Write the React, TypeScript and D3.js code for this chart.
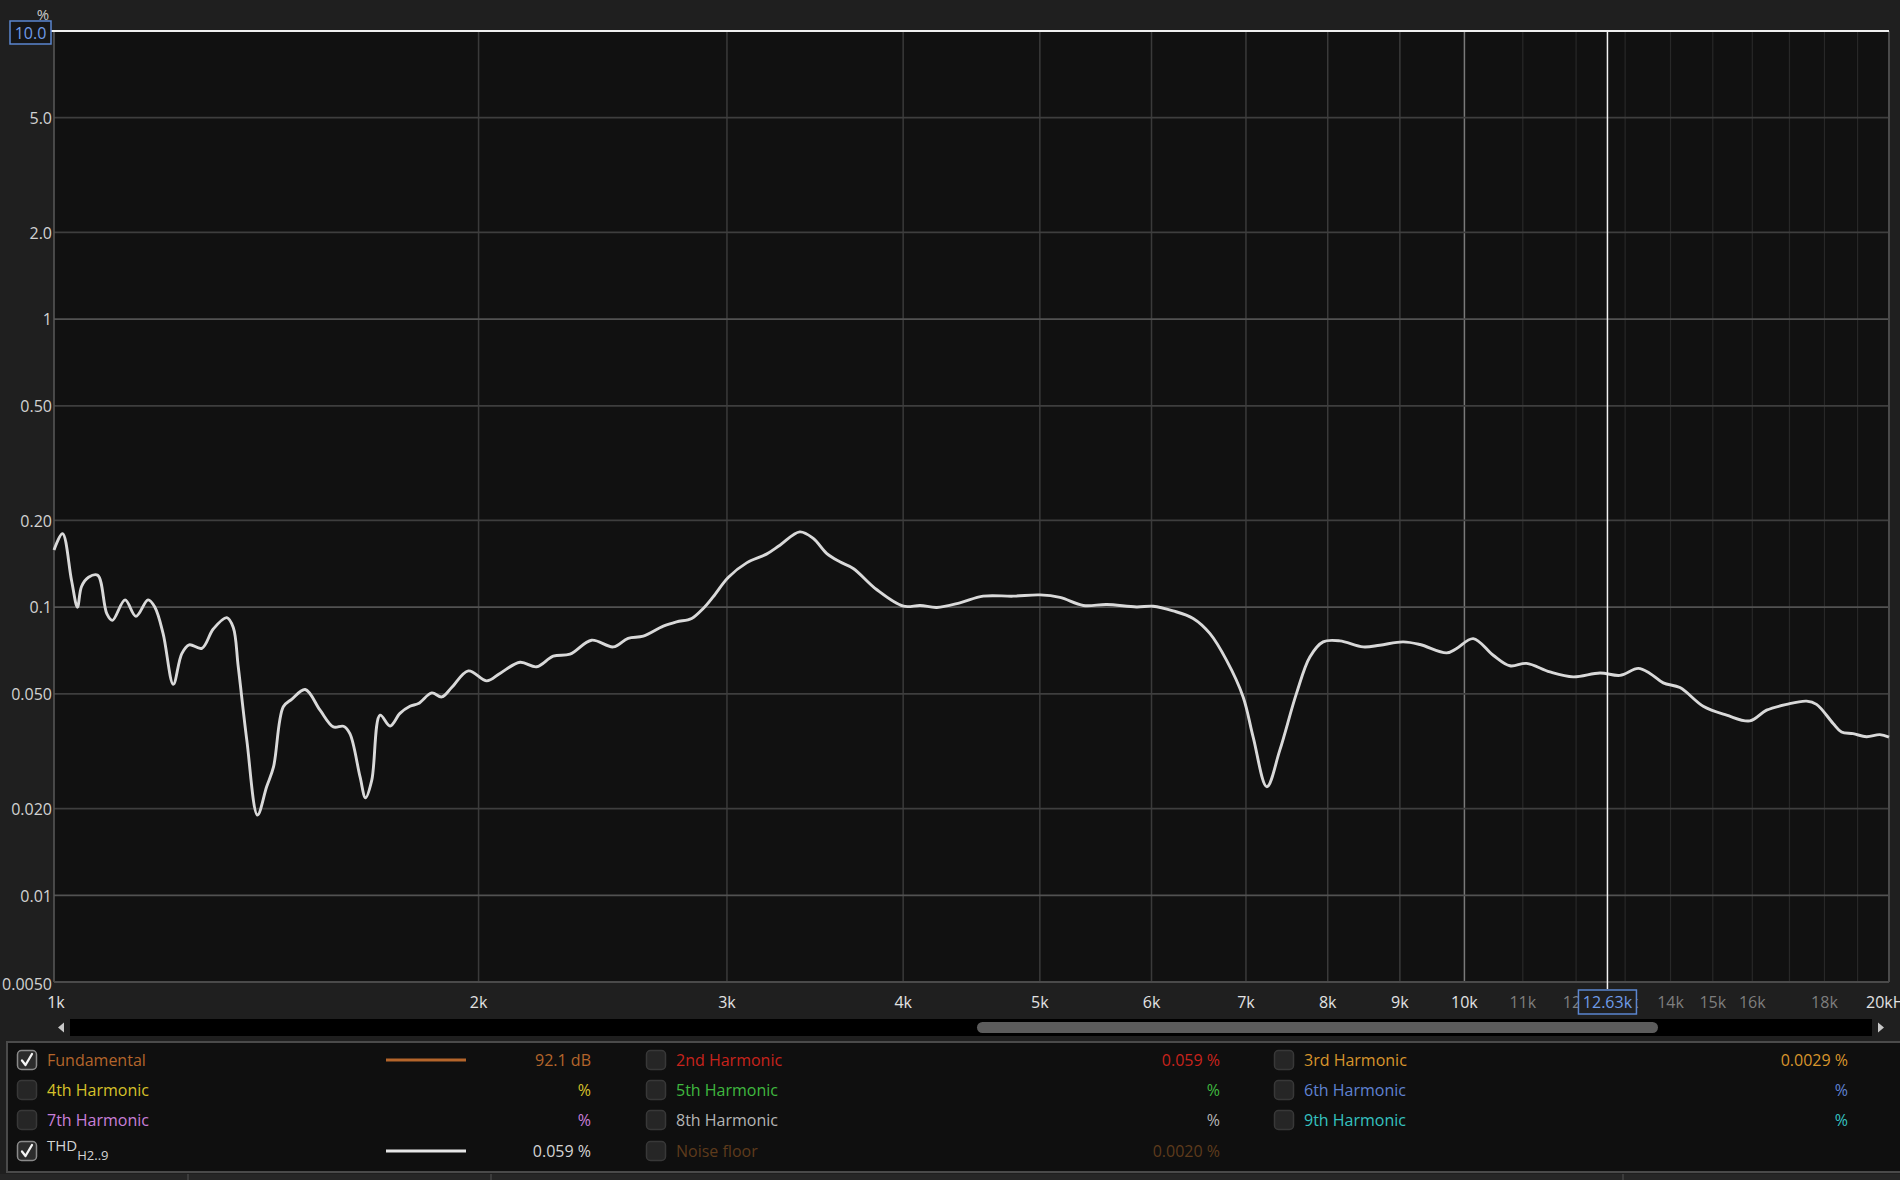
import React from 'react'
import * as d3 from 'd3'

// THD (H2..9) sweep
const freqHz = [
  1000, 1014, 1029, 1039, 1046, 1058, 1074, 1090, 1100, 1123,
  1143, 1166, 1179, 1195, 1215, 1232, 1247, 1273, 1297, 1326,
  1340, 1351, 1370, 1394, 1415, 1431, 1454, 1474, 1507, 1544,
  1578, 1604, 1621, 1648, 1663, 1680, 1703, 1731, 1759, 1788,
  1813, 1853, 1883, 1914, 1967, 2027, 2071, 2140, 2199, 2259,
  2322, 2405, 2492, 2553, 2617, 2704, 2763, 2832, 2886, 2933,
  3006, 3098, 3200, 3271, 3379, 3454, 3530, 3607, 3687, 3830,
  4002, 4113, 4226, 4388, 4558, 4787, 5001, 5167, 5368, 5577,
  5855, 6016, 6215, 6422, 6599, 6781, 6968, 7083, 7243, 7398,
  7602, 7770, 7940, 8160, 8476, 8710, 9048, 9300, 9714, 9874,
  10145, 10481, 10771, 11068, 11497, 11944, 12477, 12891, 13282, 13538,
  13835, 14217, 14767, 15342, 15937, 16377, 16921, 17483, 17768, 18256,
  18508, 18862, 19279, 19702, 20000,
]
const thdPct = [
  0.158, 0.18, 0.124, 0.1, 0.118, 0.127, 0.129, 0.095, 0.09, 0.106,
  0.093, 0.106, 0.1, 0.081, 0.054, 0.069, 0.074, 0.072, 0.084, 0.092,
  0.085, 0.062, 0.0345, 0.019, 0.0238, 0.0279, 0.0451, 0.0479, 0.0518, 0.0439,
  0.0384, 0.0386, 0.0364, 0.0258, 0.0218, 0.0251, 0.0422, 0.0387, 0.0428, 0.0453,
  0.0463, 0.0504, 0.0488, 0.0526, 0.0601, 0.0555, 0.0589, 0.0644, 0.0621, 0.0676,
  0.0687, 0.0768, 0.0728, 0.078, 0.0793, 0.0859, 0.0889, 0.0914, 0.099, 0.1086,
  0.1268, 0.1425, 0.1528, 0.1641, 0.1826, 0.1732, 0.1537, 0.1437, 0.1363, 0.1152,
  0.1008, 0.1014, 0.0998, 0.1035, 0.1092, 0.1092, 0.1103, 0.1081, 0.1014, 0.1022,
  0.1002, 0.1008, 0.0971, 0.0914, 0.0811, 0.0655, 0.0488, 0.0354, 0.0238, 0.0319,
  0.0502, 0.0672, 0.0758, 0.0764, 0.0728, 0.0738, 0.0758, 0.0742, 0.0694, 0.0719,
  0.0778, 0.0681, 0.0626, 0.0638, 0.0596, 0.0573, 0.0591, 0.058, 0.0613, 0.0589,
  0.0546, 0.0526, 0.0453, 0.0422, 0.0403, 0.0439, 0.046, 0.0472, 0.046, 0.0395,
  0.0369, 0.0364, 0.0355, 0.0361, 0.0354,
]

const yTicks = [5, 2, 1, 0.5, 0.2, 0.1, 0.05, 0.02, 0.01, 0.005]
const yTickLabels = ['5.0', '2.0', '1', '0.50', '0.20', '0.1', '0.050', '0.020', '0.01', '0.0050']
const xMajor = [2000, 3000, 4000, 5000, 6000, 7000, 8000, 9000, 10000]
const xMajorLabels = ['2k', '3k', '4k', '5k', '6k', '7k', '8k', '9k', '10k']
const xMinor = [11000, 12000, 13000, 14000, 15000, 16000, 17000, 18000, 19000]
const xMinorLabels = ['11k', '12k', '13k', '14k', '15k', '16k', '', '18k', '']

const cursorHz = 12630
const cursorPct = 10

const legendNames = ['Fundamental', '2nd Harmonic', '3rd Harmonic', '4th Harmonic', '5th Harmonic', '6th Harmonic',
  '7th Harmonic', '8th Harmonic', '9th Harmonic', 'THD', 'Noise floor']
const legendColors = ['#b4652b', '#c8231c', '#d8952c', '#d6c12a', '#3fb83f', '#5f82d2',
  '#c97fd9', '#b5b5b5', '#35c2c0', '#d4d4d4', '#5e3b1c']
const legendValues = ['92.1 dB', '0.059 %', '0.0029 %', '%', '%', '%', '%', '%', '%', '0.059 %', '0.0020 %']
const legendChecked = [true, false, false, false, false, false, false, false, false, true, false]
const legendSample = ['#b4652b', '', '', '', '', '', '', '', '', '#e6e6e6', '']

const W = 1900
const H = 1180
const M = { left: 54, right: 1889, top: 31, bottom: 982 }
const FONT = "'Open Sans', 'Noto Sans', sans-serif"
const TY = 2 // text baseline nudge

export default function App() {
  const x = d3.scaleLog().domain([1000, 20000]).range([M.left, M.right])
  const y = d3.scaleLog().domain([0.005, 10]).range([M.bottom, M.top])

  const pts = freqHz.map((f, i) => [x(f), y(thdPct[i])] as [number, number])
  const linePath = d3.line().curve(d3.curveCatmullRom.alpha(0.5))(pts) || ''

  const cx = x(cursorHz)
  const cy = y(cursorPct)

  const colX = [27, 656, 1284]
  const labelX = [47, 676, 1304]
  const valueX = [591, 1220, 1848]
  const rowY = [1060, 1090, 1120, 1151]

  return (
    <>
      <style>{`body{margin:0;background:#1f1f1f;}`}</style>
      <svg width={W} height={H} style={{ display: 'block', fontFamily: FONT }}>
        <rect x={0} y={0} width={W} height={H} fill="#1f1f1f" />
        {/* plot area */}
        <rect x={M.left} y={M.top} width={M.right - M.left} height={M.bottom - M.top} fill="#111111" />

        {/* minor vertical grid */}
        {xMinor.map((f) => (
          <line key={'mn' + f} x1={x(f)} x2={x(f)} y1={M.top} y2={M.bottom} stroke="#282828" strokeWidth={1.2} />
        ))}
        {xMajor.map((f) => (
          <line key={'mj' + f} x1={x(f)} x2={x(f)} y1={M.top} y2={M.bottom}
            stroke={f === 10000 ? '#7a7a7a' : '#3a3a3a'} strokeWidth={1.5} />
        ))}
        {yTicks.slice(0, -1).map((v) => {
          const decade = Math.abs(Math.log10(v) - Math.round(Math.log10(v))) < 1e-6
          return (
            <line key={'h' + v} x1={M.left} x2={M.right} y1={y(v)} y2={y(v)}
              stroke={decade ? '#525252' : '#3e3e3e'} strokeWidth={1.8} />
          )
        })}

        {/* frame */}
        <line x1={M.left} x2={M.left} y1={M.top} y2={M.bottom} stroke="#5a5a5a" strokeWidth={1.5} />
        <line x1={M.left} x2={M.right} y1={M.bottom} y2={M.bottom} stroke="#4a4a4a" strokeWidth={2} />
        <line x1={M.right} x2={M.right} y1={M.top} y2={M.bottom} stroke="#4a4a4a" strokeWidth={2} />

        {/* THD curve */}
        <path d={linePath} fill="none" stroke="#d9d9d9" strokeWidth={2.9} strokeLinejoin="round" />

        {/* cursor */}
        <line x1={cx} x2={cx} y1={M.top} y2={989} stroke="#f2f2f2" strokeWidth={1.5} />
        <line x1={51} x2={M.right} y1={cy} y2={cy} stroke="#f0f0f0" strokeWidth={2} />

        {/* y labels */}
        {yTicks.map((v, i) => (
          <text key={'yl' + v} x={52} y={y(v) + TY + (i === yTicks.length - 1 ? 2 : 0)} textAnchor="end"
            dominantBaseline="middle" fill="#d2d2d2" fontSize={16}>{yTickLabels[i]}</text>
        ))}
        <text x={43} y={16} textAnchor="middle" dominantBaseline="middle" fill="#c8c8c8" fontSize={15}>%</text>
        <rect x={10} y={21} width={41} height={23} fill="#161616" stroke="#5b86d0" strokeWidth={1.5} />
        <text x={30.5} y={33 + TY} textAnchor="middle" dominantBaseline="middle" fill="#6f9ce8" fontSize={16}>10.0</text>

        {/* x labels */}
        <text x={x(1000) + 2} y={1002 + TY} textAnchor="middle" dominantBaseline="middle" fill="#e2e2e2" fontSize={16}>1k</text>
        {xMajor.map((f, i) => (
          <text key={'xl' + f} x={x(f)} y={1002 + TY} textAnchor="middle" dominantBaseline="middle" fill="#e2e2e2" fontSize={16}>
            {xMajorLabels[i]}
          </text>
        ))}
        {xMinor.map((f, i) => (
          <text key={'xm' + f} x={x(f)} y={1002 + TY} textAnchor="middle" dominantBaseline="middle" fill="#7e7e7e" fontSize={16}>
            {xMinorLabels[i]}
          </text>
        ))}
        <text x={x(20000)} y={1002 + TY} textAnchor="middle" dominantBaseline="middle" fill="#e2e2e2" fontSize={16}>20kHz</text>
        <rect x={cx - 29} y={990} width={58} height={24} fill="#1f1f1f" stroke="#5b86d0" strokeWidth={1.5} />
        <text x={cx} y={1002 + TY} textAnchor="middle" dominantBaseline="middle" fill="#6f9ce8" fontSize={16}>12.63k</text>

        {/* scrollbar */}
        <rect x={70} y={1019} width={1802} height={17} fill="#000" />
        <rect x={977} y={1022} width={681} height={11} rx={5.5} fill="#5c5c5c" />
        <path d="M58,1027.5 L64,1022.5 L64,1032.5 Z" fill="#c8c8c8" />
        <path d="M1884,1027.5 L1878,1022.5 L1878,1032.5 Z" fill="#c8c8c8" />

        {/* legend panel */}
        <rect x={7} y={1042} width={W} height={130} fill="#0f0f0f" stroke="#4a4a4a" strokeWidth={2} />
        <rect x={0} y={1174} width={W} height={6} fill="#262626" />
        {[188, 491, 1623].map((sx) => (
          <line key={'sep' + sx} x1={sx} x2={sx} y1={1174} y2={1180} stroke="#444" strokeWidth={1.5} />
        ))}

        {legendNames.map((name, i) => {
          const col = i % 3
          const row = Math.floor(i / 3)
          const ry = rowY[row]
          const bx = colX[col]
          const checked = legendChecked[i]
          return (
            <g key={'lg' + i}>
              <rect x={bx - 9.5} y={ry - 9.5} width={19} height={19} rx={4}
                fill={checked ? '#2c2c2c' : '#262626'} stroke={checked ? '#8a8a8a' : '#383838'} strokeWidth={1.5} />
              {checked && (
                <path d={`M${bx - 5},${ry + 0.5} L${bx - 1.5},${ry + 5} L${bx + 5},${ry - 6}`} fill="none"
                  stroke="#f4f4f4" strokeWidth={2.3} strokeLinecap="round" strokeLinejoin="round" />
              )}
              {name === 'THD' ? (
                <text x={labelX[col]} y={ry - 4} dominantBaseline="middle" fill={legendColors[i]} fontSize={15}>
                  THD
                  <tspan fontSize={13} dy={10}>H2..9</tspan>
                </text>
              ) : (
                <text x={labelX[col]} y={ry + TY} dominantBaseline="middle" fill={legendColors[i]} fontSize={16}>{name}</text>
              )}
              {legendSample[i] && (
                <line x1={386} x2={466} y1={ry} y2={ry} stroke={legendSample[i]} strokeWidth={3} />
              )}
              <text x={valueX[col]} y={ry + TY} textAnchor="end" dominantBaseline="middle" fill={legendColors[i]} fontSize={16}>
                {legendValues[i]}
              </text>
            </g>
          )
        })}
      </svg>
    </>
  )
}
